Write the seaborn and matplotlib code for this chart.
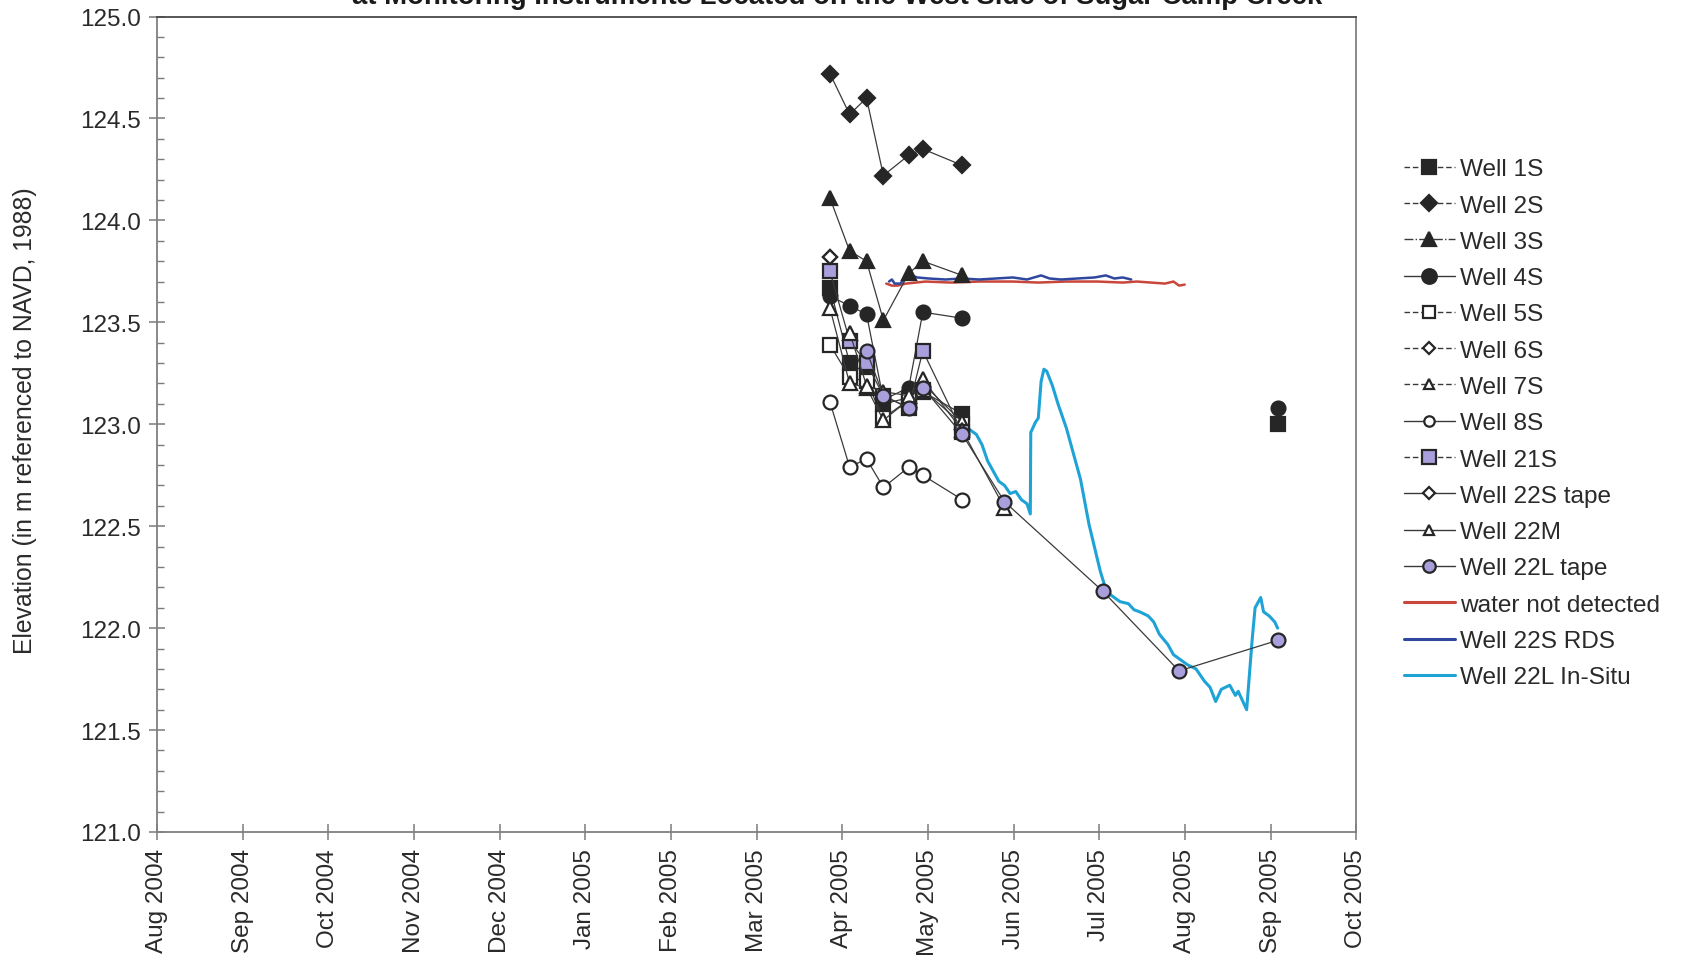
import numpy as np
import pandas as pd
import matplotlib
matplotlib.use("Agg")
import matplotlib.pyplot as plt
import matplotlib.dates as mdates
from matplotlib.lines import Line2D
from matplotlib.ticker import MultipleLocator, FormatStrFormatter
import seaborn as sns

# --- data ---
SAMPLE_DATES = ["2005-03-28", "2005-04-04", "2005-04-10", "2005-04-16", "2005-04-25",
                "2005-04-30", "2005-05-14", "2005-05-29", "2005-07-03", "2005-07-30",
                "2005-09-03"]

WELL_1S = [123.67, 123.30, 123.25, 123.10, 123.13, 123.16, 123.05, None, None, None, 123.00]
WELL_2S = [124.72, 124.52, 124.60, 124.22, 124.32, 124.35, 124.27, None, None, None, None]
WELL_3S = [124.11, 123.85, 123.80, 123.51, 123.74, 123.80, 123.73, None, None, None, None]
WELL_4S = [123.63, 123.58, 123.54, 123.12, 123.18, 123.55, 123.52, None, None, None, 123.08]
WELL_5S = [123.39, 123.23, 123.21, 123.03, 123.12, 123.17, 123.00, None, None, None, None]
WELL_6S = [123.82, None, None, None, None, None, None, None, None, None, None]
WELL_7S = [123.57, 123.20, 123.18, 123.02, 123.12, 123.20, 123.01, None, None, None, None]
WELL_8S = [123.11, 122.79, 122.83, 122.69, 122.79, 122.75, 122.63, None, None, None, None]
WELL_21S = [123.75, 123.41, 123.30, 123.14, 123.08, 123.36, 122.96, None, None, None, None]
WELL_22S_TAPE = [123.82, None, None, None, None, None, None, None, None, None, None]
WELL_22M = [None, 123.45, 123.19, 123.16, 123.14, 123.22, 122.97, 122.59, None, None, None]
WELL_22L_TAPE = [None, None, 123.36, 123.14, 123.08, 123.18, 122.95, 122.62, 122.18, 121.79, 121.94]

INSITU_DATES = ["2005-05-14", "2005-05-16", "2005-05-19", "2005-05-21", "2005-05-23",
                "2005-05-25", "2005-05-27", "2005-05-29", "2005-05-31", "2005-06-02",
                "2005-06-04", "2005-06-06", "2005-06-07 04:00", "2005-06-07 08:00",
                "2005-06-08", "2005-06-09", "2005-06-10", "2005-06-11", "2005-06-12",
                "2005-06-13", "2005-06-15", "2005-06-17", "2005-06-20", "2005-06-22",
                "2005-06-25", "2005-06-28", "2005-07-02", "2005-07-04", "2005-07-06",
                "2005-07-09", "2005-07-12", "2005-07-14", "2005-07-16", "2005-07-19",
                "2005-07-21", "2005-07-23", "2005-07-26", "2005-07-28", "2005-07-31",
                "2005-08-02", "2005-08-05", "2005-08-08", "2005-08-10", "2005-08-12",
                "2005-08-14", "2005-08-17", "2005-08-19", "2005-08-20", "2005-08-22",
                "2005-08-23", "2005-08-25", "2005-08-26", "2005-08-28", "2005-08-29",
                "2005-08-31", "2005-09-02", "2005-09-03"]
INSITU_ELEV = [122.99, 122.98, 122.95, 122.90, 122.82, 122.77, 122.72, 122.70, 122.66, 122.67,
               122.63, 122.61, 122.56, 122.96, 122.98, 123.01, 123.03, 123.21, 123.27,
               123.26, 123.19, 123.10, 122.98, 122.88, 122.73, 122.51, 122.28, 122.19, 122.16,
               122.13, 122.12, 122.09, 122.08, 122.06, 122.03, 121.97, 121.92, 121.87, 121.84,
               121.82, 121.80, 121.74, 121.71, 121.64, 121.70, 121.72, 121.67, 121.69, 121.63,
               121.60, 121.95, 122.10, 122.15, 122.08, 122.06, 122.03, 122.00]

RDS_DATES = ["2005-04-18", "2005-04-19", "2005-04-20", "2005-04-22", "2005-04-24",
             "2005-04-26", "2005-04-28", "2005-05-02", "2005-05-08", "2005-05-14",
             "2005-05-20", "2005-05-26", "2005-06-01", "2005-06-06", "2005-06-11",
             "2005-06-14", "2005-06-18", "2005-06-24", "2005-06-30", "2005-07-04",
             "2005-07-07", "2005-07-10", "2005-07-13"]
RDS_ELEV = [123.70, 123.71, 123.69, 123.69, 123.72, 123.73, 123.72, 123.715, 123.71, 123.715,
            123.71, 123.715, 123.72, 123.71, 123.73, 123.715, 123.71, 123.715, 123.72, 123.73,
            123.715, 123.72, 123.71]

DRY_DATES = ["2005-04-17", "2005-04-19", "2005-04-21", "2005-04-24", "2005-05-01",
             "2005-05-10", "2005-05-20", "2005-06-01", "2005-06-10", "2005-06-20",
             "2005-07-01", "2005-07-10", "2005-07-15", "2005-07-20", "2005-07-25",
             "2005-07-28", "2005-07-30", "2005-08-01"]
DRY_ELEV = [123.69, 123.68, 123.68, 123.69, 123.70, 123.695, 123.70, 123.70, 123.695, 123.70,
            123.70, 123.695, 123.70, 123.695, 123.69, 123.70, 123.68, 123.685]

TICK_LABELS = ["Aug 2004", "Sep 2004", "Oct 2004", "Nov 2004", "Dec 2004", "Jan 2005",
               "Feb 2005", "Mar 2005", "Apr 2005", "May 2005", "Jun 2005", "Jul 2005",
               "Aug 2005", "Sep 2005", "Oct 2005"]

TITLE = "at Monitoring Instruments Located on the West Side of Sugar Camp Creek"
Y_LABEL = "Elevation (in m referenced to NAVD, 1988)"

# --- styling ---
DARK = "#262626"
PURPLE = "#a99fdc"
LINK = "#3a3a3a"
CYAN = "#1fa3d6"
RED = "#c8463a"
BLUE = "#2f479e"

sns.set_theme(style="ticks")
plt.rcParams["font.family"] = ["Liberation Sans", "DejaVu Sans"]

fig = plt.figure(figsize=(16.84, 9.62), dpi=100)
ax = fig.add_axes([0.0932, 0.1341, 0.7123, 0.8477])


def to_num(dates):
    return mdates.date2num(pd.to_datetime(dates, format="mixed"))


sample_x = to_num(SAMPLE_DATES)


def draw_well(vals, marker, face, ms=9.5, z=4):
    # break the line wherever a reading is missing (Excel "gaps")
    s = pd.Series(vals, index=sample_x, dtype=float)
    ok = s.notna()
    grp = (ok != ok.shift()).cumsum()
    for _, seg in s[ok].groupby(grp[ok]):
        sns.lineplot(x=seg.index.values, y=seg.values, ax=ax, color=LINK, lw=0.9,
                     marker=marker, markersize=ms, markerfacecolor=face,
                     markeredgecolor=DARK, markeredgewidth=1.6,
                     estimator=None, sort=False, legend=False, zorder=z)


# continuous logger records
sns.lineplot(x=to_num(DRY_DATES), y=DRY_ELEV, ax=ax,
             color=RED, lw=1.8, estimator=None, sort=False, legend=False, zorder=2)
sns.lineplot(x=to_num(RDS_DATES), y=RDS_ELEV, ax=ax,
             color=BLUE, lw=1.8, estimator=None, sort=False, legend=False, zorder=2.1)
sns.lineplot(x=to_num(INSITU_DATES), y=INSITU_ELEV, ax=ax,
             color=CYAN, lw=2.2, estimator=None, sort=False, legend=False, zorder=2.2)

draw_well(WELL_1S, "s", DARK)
draw_well(WELL_2S, "D", DARK, ms=8.5)
draw_well(WELL_3S, "^", DARK, ms=10.5)
draw_well(WELL_4S, "o", DARK, ms=10)
draw_well(WELL_5S, "s", "white")
draw_well(WELL_6S, "D", "white", ms=7)
draw_well(WELL_7S, "^", "white", ms=10)
draw_well(WELL_8S, "o", "white", ms=10)
draw_well(WELL_21S, "s", PURPLE)
draw_well(WELL_22S_TAPE, "D", "white", ms=7)
draw_well(WELL_22M, "^", "white", ms=10.5)
draw_well(WELL_22L_TAPE, "o", PURPLE, ms=10, z=5)

# axes
x0 = mdates.date2num(pd.Timestamp("2004-08-01"))
x1 = mdates.date2num(pd.Timestamp("2005-10-01"))
ax.set_xlim(x0, x1)
ax.set_ylim(121.0, 125.0)
ax.set_xticks(np.linspace(x0, x1, len(TICK_LABELS)))
ax.set_xticklabels(TICK_LABELS, rotation=90, ha="center", va="top")
ax.yaxis.set_major_locator(MultipleLocator(0.5))
ax.yaxis.set_minor_locator(MultipleLocator(0.1))
ax.yaxis.set_major_formatter(FormatStrFormatter("%.1f"))
ax.tick_params(axis="both", which="major", direction="inout", length=11, width=1.1,
               color="#7a7a7a", labelsize=17.5, labelcolor="#2a2a2a", pad=6)
ax.tick_params(axis="y", which="minor", direction="in", length=5, width=1.0, color="#7a7a7a")
for sp in ax.spines.values():
    sp.set_color("#808080")
    sp.set_linewidth(1.3)
ax.spines["top"].set_color("#4a4a4a")

ax.set_ylabel(Y_LABEL, fontsize=17.8, color="#2a2a2a")
ax.yaxis.set_label_coords(-0.100, 0.505)
ax.set_xlabel("")

fig.text(0.497, 0.9955, TITLE, ha="center", va="baseline", fontsize=19.8,
         fontweight="bold", color="#1a1a1a")


# legend
def h(marker, face, ls, ms):
    return Line2D([], [], color=LINK, lw=1.0, ls=ls, marker=marker, markersize=ms,
                  markerfacecolor=face, markeredgecolor=DARK, markeredgewidth=1.6)


DASH = (0, (4, 2))
handles = [
    h("s", DARK, DASH, 10), h("D", DARK, DASH, 8), h("^", DARK, "-.", 10.5),
    h("o", DARK, "-", 10.5), h("s", "white", DASH, 8), h("D", "white", DASH, 6),
    h("^", "white", DASH, 7.5), h("o", "white", "-", 7.5), h("s", PURPLE, DASH, 9.5),
    h("D", "white", "-", 6.5), h("^", "white", "-", 7.5), h("o", PURPLE, "-", 9),
    Line2D([], [], color=RED, lw=2.2), Line2D([], [], color=BLUE, lw=2.2),
    Line2D([], [], color=CYAN, lw=2.2),
]
labels = ["Well 1S", "Well 2S", "Well 3S", "Well 4S", "Well 5S", "Well 6S", "Well 7S",
          "Well 8S", "Well 21S", "Well 22S tape", "Well 22M", "Well 22L tape",
          "water not detected", "Well 22S RDS", "Well 22L In-Situ"]
leg = fig.legend(handles, labels, loc="upper left", bbox_to_anchor=(0.8335, 0.8345),
                 bbox_transform=fig.transFigure, frameon=False, fontsize=17.6,
                 handlelength=2.1, handletextpad=0.2, labelspacing=0.58,
                 borderpad=0, borderaxespad=0)
for t in leg.get_texts():
    t.set_color("#2a2a2a")

fig.savefig("out.png", dpi=100)
